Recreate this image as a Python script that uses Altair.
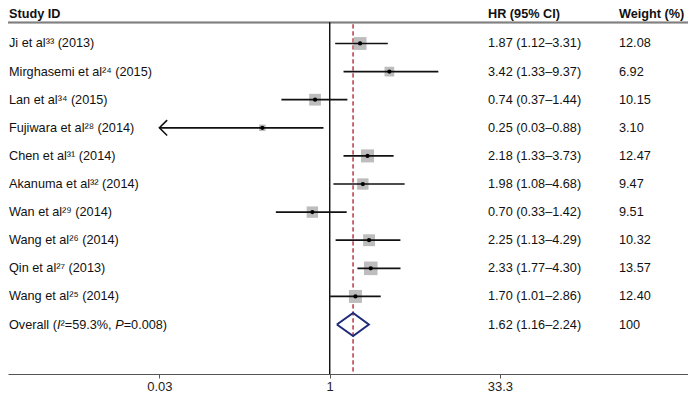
import altair as alt
import pandas as pd

# ---------------- data ----------------
studies = ["Ji et al³³ (2013)", "Mirghasemi et al²⁴ (2015)", "Lan et al³⁴ (2015)",
           "Fujiwara et al²⁸ (2014)", "Chen et al³¹ (2014)", "Akanuma et al³² (2014)",
           "Wan et al²⁹ (2014)", "Wang et al²⁶ (2014)", "Qin et al²⁷ (2013)",
           "Wang et al²⁵ (2014)"]
hr = [1.87, 3.42, 0.74, 0.25, 2.18, 1.98, 0.70, 2.25, 2.33, 1.70]
lo = [1.12, 1.33, 0.37, 0.03, 1.33, 1.08, 0.33, 1.13, 1.77, 1.01]
hi = [3.31, 9.37, 1.44, 0.88, 3.73, 4.68, 1.42, 4.29, 4.30, 2.86]
weights = [12.08, 6.92, 10.15, 3.10, 12.47, 9.47, 9.51, 10.32, 13.57, 12.40]

# overall label pieces (text, italic?)
overall_parts = [("Overall (", False), ("I", True), ("²=59.3%, ", False),
                 ("P", True), ("=0.008)", False)]
overall_hr, overall_lo, overall_hi, overall_w = 1.62, 1.16, 2.24, "100"

tick_values = [0.03, 1, 33.3]
headers = ["Study ID", "HR (95% CI)", "Weight (%)"]

# ---------------- layout constants ----------------
W = 680
PH = 366
FONT = "Liberation Sans"
FS = 12.7
col_x = [1, 480, 611]
header_y = 6
header_line_y = 14.4
diamond_half = 0.41

# Arial/Liberation Sans advance widths (per 1000 em) for laying out the mixed-style label
AFM = {"O": 778, "v": 500, "e": 556, "r": 333, "a": 556, "l": 222, " ": 278, "(": 333,
       ")": 333, "I": 278, "P": 667, "²": 333, "=": 584, "%": 889, ",": 278, ".": 278}
def text_w(s):
    return sum(AFM.get(c, 556) for c in s) * FS / 1000.0

n = len(studies)
df = pd.DataFrame({"study": studies, "hr": hr, "lo": lo, "hi": hi, "w": weights,
                   "row": list(range(n))})
df["lo_draw"] = [max(v, tick_values[0]) for v in lo]

txt = pd.DataFrame({
    "label": studies + [""],
    "hr_txt": [f"{h:.2f} ({l:.2f}–{u:.2f})" for h, l, u in zip(hr, lo, hi)]
              + [f"{overall_hr:.2f} ({overall_lo:.2f}–{overall_hi:.2f})"],
    "w_txt": [f"{w:.2f}" for w in weights] + [overall_w],
    "row": list(range(n + 1)),
})

offs, acc = [], 0.0
for s, _ in overall_parts:
    offs.append(acc)
    acc += text_w(s)
ov = pd.DataFrame({
    "t": [p[0] for p in overall_parts],
    "ital": [p[1] for p in overall_parts],
    "px": [o + col_x[0] for o in offs],
    "row": [n] * len(overall_parts),
})

diamond = pd.DataFrame({
    "x": [overall_lo, overall_hr, overall_hi, overall_hr, overall_lo],
    "y": [n, n - diamond_half, n, n + diamond_half, n],
    "k": [0, 1, 2, 3, 4],
})

arrow = df[df["lo"] <= tick_values[0]]

hdr = pd.DataFrame({"h": headers, "x": col_x})

# ---------------- scales ----------------
xs = alt.Scale(type="log", domain=[0.001327, 1603], nice=False)
ys = alt.Scale(domain=[-1.263, 11.76], reverse=True, nice=False, zero=False)
xaxis = alt.Axis(values=tick_values, format="~g", title=None, grid=False,
                 tickSize=4, labelPadding=2, domainColor="#555", tickColor="#555",
                 labelColor="#222", labelFont=FONT, labelFontSize=13,
                 domainWidth=1, tickWidth=1)

# ---------------- layers ----------------
header_text = alt.Chart(hdr).mark_text(align="left", baseline="middle", font=FONT,
                                        fontSize=FS, fontWeight="bold", color="#111").encode(
    x=alt.X("x:Q", scale=None), y=alt.value(header_y), text="h:N")

header_rule = alt.Chart(hdr).mark_rule(color="#808080", strokeWidth=1.5).encode(
    x=alt.value(0), x2=alt.value(W), y=alt.value(header_line_y))

null_line = alt.Chart(hdr).mark_rule(color="#111", strokeWidth=1).encode(
    x=alt.datum(1, scale=xs, axis=xaxis), y=alt.value(header_line_y), y2=alt.value(PH))

overall_line = alt.Chart(hdr).mark_rule(color="#c4505e", strokeWidth=1,
                                         strokeDash=[4, 3]).encode(
    x=alt.datum(overall_hr, scale=xs, axis=xaxis), y=alt.value(header_line_y + 2),
    y2=alt.value(PH))

boxes = alt.Chart(df).mark_square(color="#bdbdbd", opacity=1).encode(
    x=alt.X("hr:Q", scale=xs, axis=xaxis),
    y=alt.Y("row:Q", scale=ys, axis=None),
    size=alt.Size("w:Q", scale=alt.Scale(domain=[0, 13.57], range=[0, 185]), legend=None))

ci = alt.Chart(df).mark_rule(color="#111", strokeWidth=1.7).encode(
    x=alt.X("lo_draw:Q", scale=xs, axis=xaxis), x2="hi:Q",
    y=alt.Y("row:Q", scale=ys, axis=None))

dots = alt.Chart(df).mark_circle(color="#000", size=18, opacity=1).encode(
    x=alt.X("hr:Q", scale=xs, axis=xaxis), y=alt.Y("row:Q", scale=ys, axis=None))

arrow_head = alt.Chart(arrow).mark_point(shape="M 1 -1 L 0 0 L 1 1", filled=False,
                                         color="#111", strokeWidth=1.6, size=240,
                                         opacity=1).encode(
    x=alt.X("lo_draw:Q", scale=xs, axis=xaxis), y=alt.Y("row:Q", scale=ys, axis=None))

diamond_line = alt.Chart(diamond).mark_line(color="#1f2a78", strokeWidth=2).encode(
    x=alt.X("x:Q", scale=xs, axis=xaxis), y=alt.Y("y:Q", scale=ys, axis=None),
    order="k:Q")

def col(field, x):
    return alt.Chart(txt).mark_text(align="left", baseline="middle", font=FONT,
                                    fontSize=FS, color="#111").encode(
        x=alt.value(x), y=alt.Y("row:Q", scale=ys, axis=None), text=f"{field}:N")

def overall_seg(italic):
    return alt.Chart(ov[ov["ital"] == italic]).mark_text(
        align="left", baseline="middle", font=FONT, fontSize=FS, color="#111",
        fontStyle="italic" if italic else "normal").encode(
        x=alt.X("px:Q", scale=None), y=alt.Y("row:Q", scale=ys, axis=None), text="t:N")

chart = alt.layer(
    header_rule, null_line, overall_line, boxes, ci, dots, arrow_head, diamond_line,
    col("label", col_x[0]), col("hr_txt", col_x[1]), col("w_txt", col_x[2]),
    overall_seg(False), overall_seg(True), header_text,
).properties(
    width=W, height=PH,
    autosize=alt.AutoSizeParams(type="none"),
    padding={"left": 0, "top": 0, "right": 0, "bottom": 21},
).configure_view(stroke=None)

chart.save("out.html", embed_options={"renderer": "svg", "actions": False})
